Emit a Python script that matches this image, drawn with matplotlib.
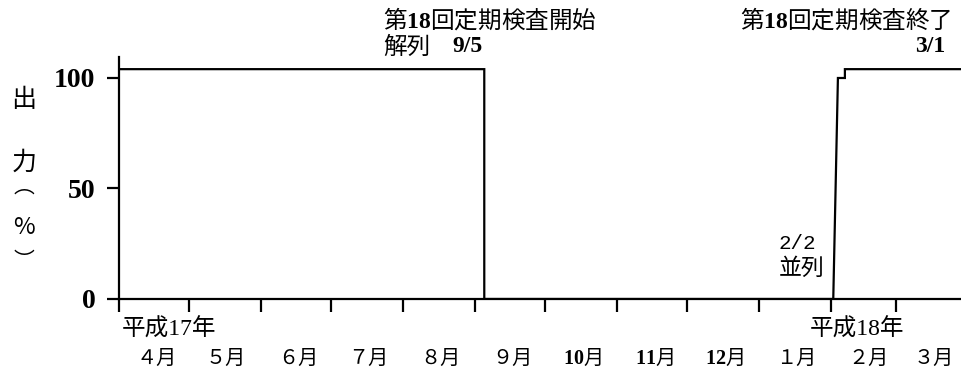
import numpy as np
import matplotlib
matplotlib.use("Agg")
import matplotlib.pyplot as plt
import matplotlib.dates as mdates
import matplotlib.transforms as mtransforms

plt.rcParams['mathtext.fontset'] = 'custom'
plt.rcParams['mathtext.rm'] = 'Liberation Serif'
plt.rcParams['mathtext.bf'] = 'Liberation Serif:bold'

# ---- data ----
dates = np.array(['2005-04-01', '2005-09-05', '2005-09-05', '2006-02-02',
                  '2006-02-04', '2006-02-07', '2006-02-07', '2006-03-31'],
                 dtype='datetime64[h]')
output = [104, 104, 0, 0, 100, 100, 104, 104]
month_labels = ['４月', '５月', '６月', '７月', '８月', '９月',
                r'$\mathbf{10}$月', r'$\mathbf{11}$月', r'$\mathbf{12}$月',
                '１月', '２月', '３月']
y_ticks = [0, 50, 100]
year_labels = ['平成17年', '平成18年']

SERIF_CJK = ['Liberation Serif', 'Noto Sans CJK JP']
CJK = ['Noto Sans CJK JP', 'DejaVu Sans']
MONO_CJK = ['Liberation Mono', 'Noto Sans CJK JP']

W, H = 962, 374
fig = plt.figure(figsize=(W / 100, H / 100), dpi=100)
ax = fig.add_axes([119 / W, 75 / H, (W - 119) / W, 242 / H])

ax.plot(dates, output, color='black', lw=1.6, solid_joinstyle='miter')

ax.set_xlim(np.datetime64('2005-04-01T00'), np.datetime64('2006-03-29T08'))
ax.set_ylim(0, 109.5)

for s in ['top', 'right']:
    ax.spines[s].set_visible(False)
for s in ['left', 'bottom']:
    ax.spines[s].set_linewidth(1.6)

ax.set_yticks(y_ticks)
ax.set_yticklabels([str(v) for v in y_ticks], family='Liberation Serif',
                   fontweight='bold', fontsize=20)
ax.tick_params(axis='y', direction='out', length=9, width=1.6, pad=8)

ax.xaxis.set_major_locator(mdates.MonthLocator(bymonthday=1))
ax.xaxis.set_major_formatter(plt.NullFormatter())
ax.xaxis.set_minor_locator(mdates.MonthLocator(bymonthday=17))
ax.tick_params(axis='x', which='major', direction='out', length=9, width=1.6)
ax.tick_params(axis='x', which='minor', length=0, pad=35)

minor_locs = ax.xaxis.get_minorticklocs()
ax.set_xticks(minor_locs[:len(month_labels)], minor=True)
ax.set_xticklabels(month_labels, minor=True)
for lab in ax.get_xticklabels(minor=True):
    lab.set_fontfamily(CJK)
    lab.set_fontsize(14.5)

# year labels
trans = mtransforms.blended_transform_factory(ax.transData, fig.transFigure)
ax.text(np.datetime64('2005-04-02'), 1 - 330 / H, year_labels[0], transform=trans,
        ha='left', va='center', family=SERIF_CJK, fontsize=17)
ax.text(np.datetime64('2006-02-12'), 1 - 330 / H, year_labels[1], transform=trans,
        ha='center', va='center', family=SERIF_CJK, fontsize=17)


def ftext(px, py, s, **kw):
    fig.text(px / W, 1 - py / H, s, **kw)


# annotations
ftext(383, 19, r'第$\mathbf{18}$回定期検査開始', ha='left', va='center', family=CJK, fontsize=17)
ftext(383, 47, '解列', ha='left', va='center', family=CJK, fontsize=17)
ftext(452, 46, '9/5', ha='left', va='center', family='Liberation Serif',
      fontweight='bold', fontsize=17)
ftext(952, 19, r'第$\mathbf{18}$回定期検査終了', ha='right', va='center', family=CJK, fontsize=17)
ftext(945, 46, '3/1', ha='right', va='center', family='Liberation Serif',
      fontweight='bold', fontsize=17)
ftext(779, 243, '2/2', ha='left', va='center', family=MONO_CJK, fontsize=15)
ftext(779, 268, '並列', ha='left', va='center', family=CJK, fontsize=16.5)

# vertical y-axis label
for py, ch, fs in [(100, '出', 18), (163, '力', 18), (187, '︵', 15),
                   (228, '%', 17), (261, '︶', 15)]:
    ftext(24, py, ch, ha='center', va='center', family=CJK, fontsize=fs)

fig.savefig('out.png', dpi=100)
